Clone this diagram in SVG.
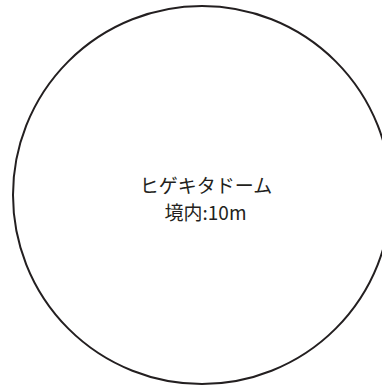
<svg xmlns="http://www.w3.org/2000/svg" width="382" height="388" viewBox="0 0 382 388">
<style>
.dome{fill:#ffffff;stroke:#231f20;stroke-width:2}
.lbl{font-family:"Noto Sans CJK JP","Noto Sans",sans-serif;font-size:19px;fill:#231f20;text-anchor:middle}
</style>
<rect width="382" height="388" fill="#ffffff"/>
<g id="node-dome">
<circle class="dome" cx="202" cy="195" r="189"/>
<text class="lbl" x="206" y="193">ヒゲキタドーム</text>
<text class="lbl" x="205.5" y="219.5">境内:10m</text>
</g>
<g id="connectors"></g>
</svg>
